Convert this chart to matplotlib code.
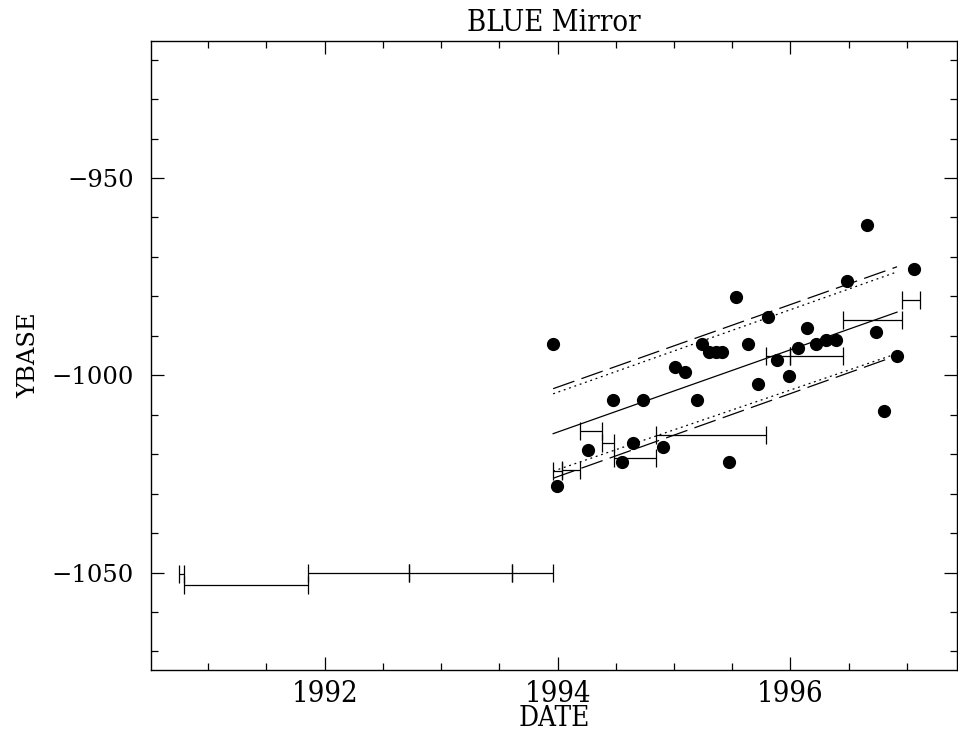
import numpy as np
import matplotlib.pyplot as plt
from matplotlib.ticker import MultipleLocator

# puntos medidos (fecha, YBASE)
fechas = [1993.957, 1993.991, 1994.263, 1994.472, 1994.555, 1994.649, 1994.735,
          1994.906, 1995.007, 1995.093, 1995.193, 1995.236, 1995.301, 1995.359,
          1995.416, 1995.470, 1995.530, 1995.636, 1995.719, 1995.808, 1995.888,
          1995.991, 1996.065, 1996.140, 1996.223, 1996.309, 1996.389, 1996.486,
          1996.657, 1996.738, 1996.801, 1996.912, 1997.061]
ybase = [-992.1, -1028.1, -1019.0, -1006.2, -1022.1, -1017.1, -1006.2,
         -1018.2, -997.9, -999.2, -1006.2, -992.1, -994.1, -994.1,
         -994.1, -1022.1, -980.1, -992.1, -1002.1, -985.2, -996.2,
         -1000.2, -993.1, -988.1, -992.1, -991.1, -991.1, -976.1,
         -962.0, -989.1, -1009.1, -995.1, -973.1]

# intervalos horizontales (inicio, fin, valor)
int_inicio = [1990.749, 1990.795, 1991.859, 1992.721, 1993.610,
              1993.962, 1994.034, 1994.191, 1994.383, 1994.483, 1994.841,
              1995.788, 1995.994, 1996.452, 1996.961]
int_fin = [1990.795, 1991.859, 1992.721, 1993.610, 1993.962,
           1994.034, 1994.191, 1994.383, 1994.483, 1994.841, 1995.788,
           1995.994, 1996.452, 1996.961, 1997.109]
int_valor = [-1050.3, -1053.1, -1050.2, -1050.2, -1050.2,
             -1024.3, -1024.0, -1014.0, -1017.1, -1021.0, -1015.2,
             -995.1, -995.1, -986.0, -981.0]

# ajuste lineal y bandas (extremos)
ajuste_x = [1993.962, 1996.915]
ajuste_y = [-1014.8, -984.0]
banda_punteada_sup = [-1004.7, -973.8]
banda_punteada_inf = [-1024.3, -994.5]
banda_rayada_sup = [-1003.4, -972.5]
banda_rayada_inf = [-1026.1, -995.0]

fig = plt.figure(figsize=(9.58, 7.36), dpi=100)
ax = fig.add_axes([150.7 / 958, 1 - 670 / 736, (957 - 150.7) / 958, (670 - 40.7) / 736])

ax.plot(fechas, ybase, 'o', color='black', ms=8.5, zorder=3)

ini = np.array(int_inicio)
fin = np.array(int_fin)
ax.errorbar((ini + fin) / 2, int_valor, xerr=(fin - ini) / 2, fmt='none',
            ecolor='black', elinewidth=0.9, capsize=6.5, capthick=0.9)

ax.plot(ajuste_x, ajuste_y, color='black', lw=0.9)
for banda in (banda_rayada_sup, banda_rayada_inf):
    ax.plot(ajuste_x, banda, color='black', lw=0.9, dashes=(18, 6))
for banda in (banda_punteada_sup, banda_punteada_inf):
    ax.plot(ajuste_x, banda, color='black', lw=0.9, dashes=(1.5, 3))

ax.set_xlim(1990.506, 1997.43)
ax.set_ylim(-1074.7, -915.2)

ax.xaxis.set_major_locator(MultipleLocator(2))
ax.xaxis.set_minor_locator(MultipleLocator(0.5))
ax.yaxis.set_major_locator(MultipleLocator(50))
ax.yaxis.set_minor_locator(MultipleLocator(10))
ax.tick_params(which='both', direction='in', top=True, right=True, width=0.9)
ax.tick_params(which='major', length=9.5)
ax.tick_params(which='minor', length=5)
ax.tick_params(axis='x', pad=7)
ax.tick_params(axis='y', pad=12)
for s in ax.spines.values():
    s.set_linewidth(1.0)

condensada = dict(family='DejaVu Serif', stretch='condensed')
for lab in ax.get_xticklabels():
    lab.set_fontfamily('DejaVu Serif')
    lab.set_fontstretch('condensed')
    lab.set_fontsize(21)
for lab in ax.get_yticklabels():
    lab.set_fontfamily('DejaVu Serif')
    lab.set_fontsize(17.5)
ax.yaxis.set_major_formatter(plt.FuncFormatter(lambda v, p: '\u2212%d' % abs(v) if v < 0 else '%d' % v))

ax.set_xlabel('DATE', fontsize=20, labelpad=-2, **condensada)
ax.set_ylabel('YBASE', fontsize=17.5, family='DejaVu Serif', labelpad=8)
ax.set_title('BLUE Mirror', fontsize=21, pad=7, **condensada)

fig.savefig('out.png', dpi=100)
